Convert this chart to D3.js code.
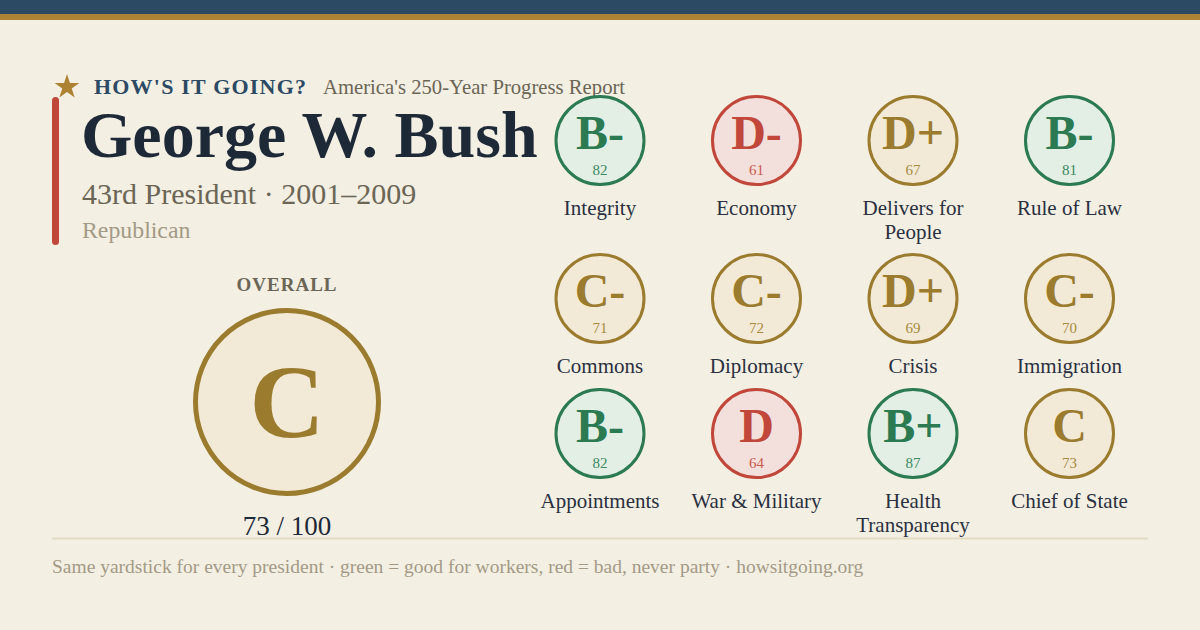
<!DOCTYPE html>
<html>
<head>
<meta charset="utf-8">
<script src="https://cdn.jsdelivr.net/npm/d3@7"></script>
<style>
  body { margin: 0; background: #f3efe3; }
  svg text { font-family: "Liberation Serif", "DejaVu Serif", serif; }
</style>
</head>
<body>
<div id="card"></div>
<script>
// report card values
var categories = ["Integrity", "Economy", "Delivers for People", "Rule of Law",
                  "Commons", "Diplomacy", "Crisis", "Immigration",
                  "Appointments", "War & Military", "Health Transparency", "Chief of State"];
var grades = ["B-", "D-", "D+", "B-", "C-", "C-", "D+", "C-", "B-", "D", "B+", "C"];
var scores = [82, 61, 67, 81, 71, 72, 69, 70, 82, 64, 87, 73];

var overallGrade = "C",
    overallScore = 73,
    overallMax = 100;

var brand = "HOW'S IT GOING?",
    tagline = "America's 250-Year Progress Report",
    president = "George W. Bush",
    subtitle = "43rd President \u00b7 2001\u20132009",
    party = "Republican",
    footnote = "Same yardstick for every president \u00b7 green = good for workers, red = bad, never party \u00b7 howsitgoing.org";

var width = 1200, height = 630;

var palette = {
    green: {stroke: "#2b7a52", fill: "#e3eee5", score: "#3b8a62"},
    gold:  {stroke: "#9b7b2e", fill: "#f2ead7", score: "#a88a40"},
    red:   {stroke: "#c0473a", fill: "#f3e0dc", score: "#c85a4c"}
};

// score -> tone
var tone = d3.scaleThreshold()
    .domain([65, 80])
    .range(["red", "gold", "green"]);

var svg = d3.select("#card").append("svg")
    .attr("width", width)
    .attr("height", height);

svg.append("rect")
    .attr("width", width).attr("height", height)
    .attr("fill", "#f3efe3");

// top stripes
svg.append("rect").attr("width", width).attr("height", 14).attr("fill", "#2c4a63");
svg.append("rect").attr("y", 14).attr("width", width).attr("height", 6).attr("fill", "#ad8232");

// header
svg.append("path")
    .attr("d", d3.symbol(d3.symbolStar).size(190)())
    .attr("transform", "translate(67,87)")
    .attr("fill", "#ad8232");

svg.append("text")
    .attr("x", 94).attr("y", 93.5)
    .attr("font-size", 22)
    .attr("font-weight", "bold")
    .attr("letter-spacing", 1.2)
    .attr("fill", "#2c4a63")
    .text(brand);

svg.append("text")
    .attr("x", 323).attr("y", 93.5)
    .attr("font-size", 20.7)
    .attr("fill", "#6b6555")
    .text(tagline);

svg.append("rect")
    .attr("x", 52).attr("y", 97)
    .attr("width", 7).attr("height", 148)
    .attr("rx", 3.5)
    .attr("fill", "#c0483a");

svg.append("text")
    .attr("x", 81).attr("y", 157)
    .attr("font-size", 66)
    .attr("font-weight", "bold")
    .attr("fill", "#1e2938")
    .text(president);

svg.append("text")
    .attr("x", 82).attr("y", 204)
    .attr("font-size", 30)
    .attr("fill", "#6b6555")
    .text(subtitle);

svg.append("text")
    .attr("x", 82).attr("y", 238)
    .attr("font-size", 23.8)
    .attr("fill", "#a39a86")
    .text(party);

// overall grade
var ox = 287, oy = 402;

svg.append("text")
    .attr("x", ox).attr("y", 291)
    .attr("text-anchor", "middle")
    .attr("font-size", 19)
    .attr("font-weight", "bold")
    .attr("letter-spacing", 1)
    .attr("fill", "#6b6555")
    .text("OVERALL");

var overallTone = palette[tone(overallScore)];

svg.append("circle")
    .attr("cx", ox).attr("cy", oy).attr("r", 91.5)
    .attr("fill", overallTone.fill)
    .attr("stroke", overallTone.stroke)
    .attr("stroke-width", 5);

svg.append("text")
    .attr("x", ox).attr("y", oy + 35)
    .attr("text-anchor", "middle")
    .attr("font-size", 104)
    .attr("font-weight", "bold")
    .attr("fill", overallTone.stroke)
    .text(overallGrade);

svg.append("text")
    .attr("x", ox).attr("y", 535)
    .attr("text-anchor", "middle")
    .attr("font-size", 27)
    .attr("fill", "#1e2938")
    .text(overallScore + " / " + overallMax);

// category grid
var cols = 4,
    labelSize = 21,
    labelLine = 24,
    wrapWidth = 140;

var x = d3.scalePoint()
    .domain(d3.range(cols))
    .range([600, 1069.5]);

// wrap labels using a hidden measuring node
var measure = svg.append("text")
    .attr("font-size", labelSize)
    .attr("visibility", "hidden");

function wrap(label) {
    var words = label.split(" "), lines = [], line = [];
    words.forEach(function(w) {
        var test = line.concat([w]).join(" ");
        measure.text(test);
        if (line.length && measure.node().getComputedTextLength() > wrapWidth) {
            lines.push(line.join(" "));
            line = [w];
        } else {
            line.push(w);
        }
    });
    lines.push(line.join(" "));
    return lines;
}

var cells = categories.map(function(c, i) {
    return {
        label: c,
        lines: wrap(c),
        grade: grades[i],
        score: scores[i],
        col: i % cols,
        row: Math.floor(i / cols)
    };
});
measure.remove();

// row centres depend on how many label lines the row above needed
var rowCount = Math.ceil(cells.length / cols),
    rowY = [140.5],
    rowStep = 135;
for (var r = 1; r < rowCount; r++) {
    var extra = d3.max(cells.filter(function(d) { return d.row === r - 1; }),
                       function(d) { return d.lines.length; }) - 1;
    rowY.push(rowY[r - 1] + rowStep + extra * (labelLine - 1));
}

var cell = svg.append("g").attr("class", "grid")
    .selectAll("g")
    .data(cells)
    .enter().append("g")
    .attr("transform", function(d) {
        return "translate(" + x(d.col) + "," + rowY[d.row] + ")";
    });

cell.append("circle")
    .attr("r", 44)
    .attr("fill", function(d) { return palette[tone(d.score)].fill; })
    .attr("stroke", function(d) { return palette[tone(d.score)].stroke; })
    .attr("stroke-width", 3);

cell.append("text")
    .attr("y", 8)
    .attr("text-anchor", "middle")
    .attr("font-size", 48)
    .attr("font-weight", "bold")
    .attr("fill", function(d) { return palette[tone(d.score)].stroke; })
    .text(function(d) { return d.grade; });

cell.append("text")
    .attr("y", 34)
    .attr("text-anchor", "middle")
    .attr("font-size", 15)
    .attr("fill", function(d) { return palette[tone(d.score)].score; })
    .text(function(d) { return d.score; });

cell.append("text")
    .attr("text-anchor", "middle")
    .attr("font-size", labelSize)
    .attr("fill", "#2a3040")
    .selectAll("tspan")
    .data(function(d) { return d.lines; })
    .enter().append("tspan")
    .attr("x", 0)
    .attr("y", function(d, i) { return 74 + i * labelLine; })
    .text(function(d) { return d; });

// footer
svg.append("line")
    .attr("x1", 52).attr("x2", 1148)
    .attr("y1", 538.5).attr("y2", 538.5)
    .attr("stroke", "#e3dbc6")
    .attr("stroke-width", 2);

svg.append("text")
    .attr("x", 52).attr("y", 573)
    .attr("font-size", 19.5)
    .attr("fill", "#a39a86")
    .text(footnote);
</script>
</body>
</html>
